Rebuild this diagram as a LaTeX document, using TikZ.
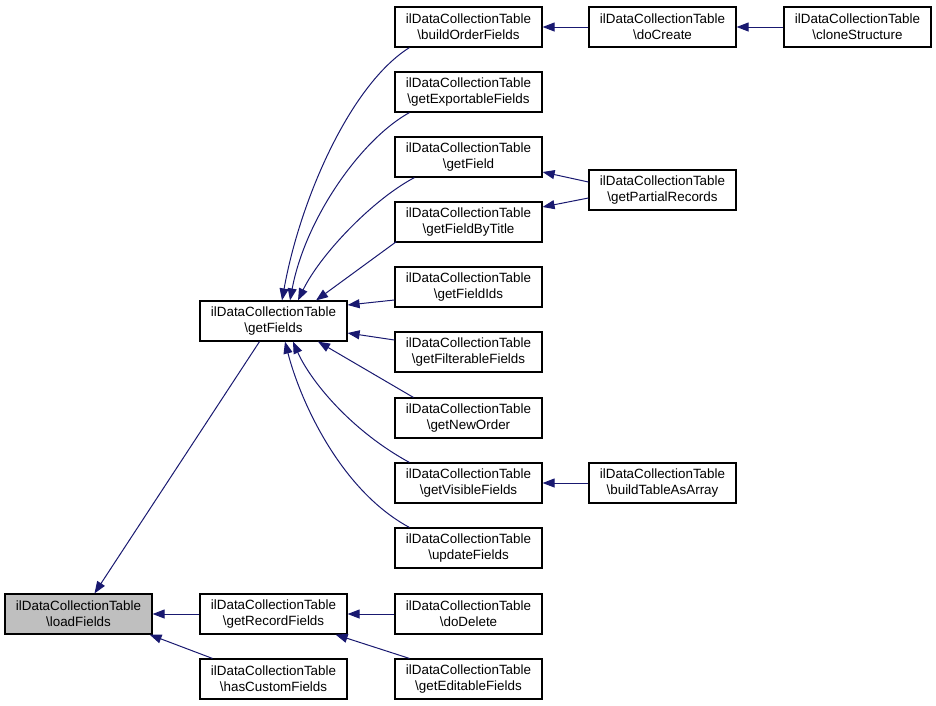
\documentclass[tikz,border=0pt]{standalone}
\usepackage{fontspec}
\setmainfont{Liberation Sans}
\usetikzlibrary{arrows.meta}
\definecolor{mnblue}{RGB}{25,25,112}
\definecolor{grayfill}{RGB}{191,191,191}
\tikzset{
  box/.style={draw=black, line width=1.2pt, rectangle, minimum width=147pt, minimum height=40pt, inner sep=0pt, align=center, font=\fontsize{13.4}{16}\selectfont, fill=white},
  hl/.style={box, fill=grayfill},
  conn/.style={draw=mnblue, line width=1pt, -{Triangle[length=12pt,width=9pt,fill=mnblue]}}
}
\begin{document}
\begin{tikzpicture}[x=1pt,y=-1pt]
\useasboundingbox (0,0) rectangle (936,705);
\node[hl] (lf) at (78.5,614) {ilDataCollectionTable\\\textbackslash loadFields};
\node[box] (gf) at (273.5,321) {ilDataCollectionTable\\\textbackslash getFields};
\node[box] (grf) at (273.5,614) {ilDataCollectionTable\\\textbackslash getRecordFields};
\node[box] (hcf) at (273.5,679) {ilDataCollectionTable\\\textbackslash hasCustomFields};
\node[box] (bof) at (468.5,27) {ilDataCollectionTable\\\textbackslash buildOrderFields};
\node[box] (exf) at (468.5,92) {ilDataCollectionTable\\\textbackslash getExportableFields};
\node[box] (gfld) at (468.5,157) {ilDataCollectionTable\\\textbackslash getField};
\node[box] (gfbt) at (468.5,222) {ilDataCollectionTable\\\textbackslash getFieldByTitle};
\node[box] (gfi) at (468.5,287) {ilDataCollectionTable\\\textbackslash getFieldIds};
\node[box] (gff) at (468.5,352) {ilDataCollectionTable\\\textbackslash getFilterableFields};
\node[box] (gno) at (468.5,418) {ilDataCollectionTable\\\textbackslash getNewOrder};
\node[box] (gvf) at (468.5,483) {ilDataCollectionTable\\\textbackslash getVisibleFields};
\node[box] (uf) at (468.5,548) {ilDataCollectionTable\\\textbackslash updateFields};
\node[box] (dd) at (468.5,614) {ilDataCollectionTable\\\textbackslash doDelete};
\node[box] (gef) at (468.5,679) {ilDataCollectionTable\\\textbackslash getEditableFields};
\node[box] (dc) at (662.5,27) {ilDataCollectionTable\\\textbackslash doCreate};
\node[box] (gpr) at (662.5,190) {ilDataCollectionTable\\\textbackslash getPartialRecords};
\node[box] (btaa) at (662.5,483) {ilDataCollectionTable\\\textbackslash buildTableAsArray};
\node[box] (cs) at (857.5,27) {ilDataCollectionTable\\\textbackslash cloneStructure};
% edges to loadFields
\draw[conn] ([xshift=-14pt]gf.south) -- ([xshift=16pt]lf.north);
\draw[conn] (grf) -- (lf);
\draw[conn] ([xshift=13pt]hcf.north west) -- ([xshift=-3pt]lf.south east);
% edges to getRecordFields
\draw[conn] (dd) -- (grf);
\draw[conn] ([xshift=15pt]gef.north west) -- ([xshift=-12pt]grf.south east);
% edges to getFields from above
\draw[conn] ([xshift=15pt]bof.south west) .. controls (350,85) and (300,200) .. ([xshift=8.5pt]gf.north);
\draw[conn] ([xshift=15pt]exf.south west) .. controls (360,140) and (305,220) .. ([xshift=16.5pt]gf.north);
\draw[conn] ([xshift=20pt]gfld.south west) .. controls (372,200) and (320,255) .. ([xshift=24.5pt]gf.north);
\draw[conn] ([xshift=2pt,yshift=1pt]gfbt.south west) -- ([xshift=42.5pt]gf.north);
\draw[conn] ([yshift=-13pt]gfi.west) -- ([yshift=16pt]gf.east);
\draw[conn] ([yshift=12pt]gff.west) -- ([yshift=-12pt]gf.east);
% edges to getFields from below
\draw[conn] ([xshift=19pt]gno.north west) -- ([xshift=44.5pt]gf.south);
\draw[conn] ([xshift=15pt]gvf.north west) .. controls (350,430) and (310,380) .. ([xshift=19.5pt]gf.south);
\draw[conn] ([xshift=15pt]uf.north west) .. controls (340,490) and (300,400) .. ([xshift=11.5pt]gf.south);
% other edges
\draw[conn] (dc) -- (bof);
\draw[conn] (cs) -- (dc);
\draw[conn] ([yshift=8pt]gpr.west) -- ([yshift=-15pt]gfld.east);
\draw[conn] ([yshift=-8pt]gpr.west) -- ([yshift=15pt]gfbt.east);
\draw[conn] (btaa) -- (gvf);
\end{tikzpicture}
\end{document}
